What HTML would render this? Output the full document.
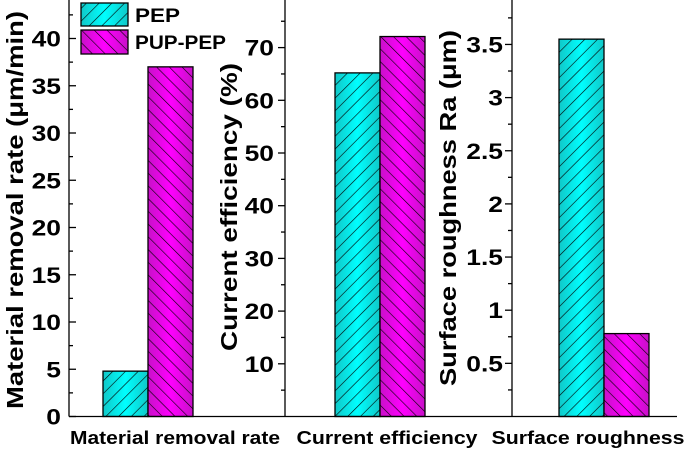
<!DOCTYPE html>
<html><head><meta charset="utf-8"><style>
body{margin:0;background:#fff}
svg{display:block;font-family:"Liberation Sans",Arial,sans-serif;font-weight:bold}
</style></head><body>
<svg id="chart" width="685" height="450" viewBox="0 0 685 450" xmlns="http://www.w3.org/2000/svg">
<defs>
<linearGradient id="gc" x1="0" x2="1" y1="0" y2="0"><stop offset="0" stop-color="#10c8c8"/><stop offset="0.5" stop-color="#00ffff"/><stop offset="1" stop-color="#10c8c8"/></linearGradient>
<linearGradient id="gm" x1="0" x2="1" y1="0" y2="0"><stop offset="0" stop-color="#c810c8"/><stop offset="0.5" stop-color="#ff00ff"/><stop offset="1" stop-color="#c810c8"/></linearGradient>
<pattern id="hc" width="9" height="9" patternUnits="userSpaceOnUse" patternTransform="rotate(45)"><line x1="0" y1="0" x2="0" y2="9" stroke="#000" stroke-width="1.2"/></pattern>
<pattern id="hm" width="9" height="9" patternUnits="userSpaceOnUse" patternTransform="rotate(-45)"><line x1="0" y1="0" x2="0" y2="9" stroke="#000" stroke-width="1.2"/></pattern>
</defs>
<g id="bars"></g>
<g id="axes" stroke="#000" stroke-width="1.3"></g>
<g id="labels" fill="#000"></g>
<g>
<rect x="81" y="3" width="47" height="23" fill="url(#gc)" stroke="#000" stroke-width="1.3"/>
<rect x="81" y="3" width="47" height="23" fill="url(#hc)"/>
<text x="135" y="22" font-size="19" textLength="45" lengthAdjust="spacingAndGlyphs">PEP</text>
<rect x="81" y="30" width="47" height="24" fill="url(#gm)" stroke="#000" stroke-width="1.3"/>
<rect x="81" y="30" width="47" height="24" fill="url(#hm)"/>
<text x="135" y="49" font-size="19" textLength="91" lengthAdjust="spacingAndGlyphs">PUP-PEP</text>
</g>
</svg>
<script>
const categories=["Material removal rate","Current efficiency","Surface roughness"];
const pepValues=[4.8,65.2,3.55];
const pupValues=[37,72.1,0.78];
const ticks1=[0,5,10,15,20,25,30,35,40];
const ticks2=[10,20,30,40,50,60,70];
const ticks3=["0.5","1","1.5","2","2.5","3","3.5"];
const titles=["Material removal rate (μm/min)","Current efficiency (%)","Surface roughness Ra (μm)"];
const NS="http://www.w3.org/2000/svg";
const base=416.5;
const scales=[v=>base-v*9.45,v=>base-v*5.27,v=>base-v*106.3];
const barX=[103,335,559], bw=45;
const gB=document.getElementById('bars'),gA=document.getElementById('axes'),gL=document.getElementById('labels');
function mk(p,tag,a){const e=document.createElementNS(NS,tag);for(const k in a)e.setAttribute(k,a[k]);p.appendChild(e);return e;}
function stretch(t,f){const w=t.getComputedTextLength();t.setAttribute('textLength',w*f);t.setAttribute('lengthAdjust','spacingAndGlyphs');}
const catX=[175,387,588],catW=[210,181,193];
categories.forEach((c,i)=>{
 const y=scales[i];
 [[pepValues[i],'c',barX[i]],[pupValues[i],'m',barX[i]+bw]].forEach(([v,s,x])=>{
  const t=y(v);
  const r=mk(gB,'rect',{x:x,y:t,width:bw,height:base-t,fill:'url(#g'+s+')',stroke:'#000','stroke-width':1.3});
  
  
  mk(gB,'rect',{x:x,y:t,width:bw,height:base-t,fill:'url(#h'+s+')'});
 });
 const tx=mk(gL,'text',{x:catX[i],y:444,'font-size':18,'text-anchor':'middle',textLength:catW[i],lengthAdjust:'spacingAndGlyphs'});
 tx.textContent=c;
 
 
});
mk(gA,'line',{x1:69,y1:base,x2:677,y2:base});
mk(gA,'line',{x1:69,y1:0,x2:69,y2:base});
for(let v=0;v<=42.5;v+=2.5){const y=scales[0](v);mk(gA,'line',{x1:69,y1:y,x2:69+(v%5==0?7:4),y2:y});}
ticks1.forEach(v=>{const t=mk(gL,'text',{x:61,y:scales[0](v)+8,'font-size':22,'text-anchor':'end'});t.textContent=v;stretch(t,1.2);});
mk(gA,'line',{x1:285,y1:0,x2:285,y2:base});
for(let v=5;v<=75;v+=5){const y=scales[1](v);mk(gA,'line',{x1:285,y1:y,x2:285-(v%10==0?7:4),y2:y});}
ticks2.forEach(v=>{const t=mk(gL,'text',{x:274,y:scales[1](v)+8,'font-size':22,'text-anchor':'end'});t.textContent=v;stretch(t,1.2);});
mk(gA,'line',{x1:512,y1:0,x2:512,y2:base});
for(let v=0.25;v<=3.8;v+=0.25){const y=scales[2](v);mk(gA,'line',{x1:512,y1:y,x2:512-(Math.abs(v*2-Math.round(v*2))<1e-6?7:4),y2:y});}
ticks3.forEach(v=>{const t=mk(gL,'text',{x:503,y:scales[2](+v)+8,'font-size':22,'text-anchor':'end'});t.textContent=v;stretch(t,1.2);});
const tPos=[[15,210,398],[229,207,288],[448,208,356]];
tPos.forEach(([x,y,len],i)=>{
 const t=mk(gL,'text',{x:0,y:0,'font-size':23,'text-anchor':'middle',textLength:len,lengthAdjust:'spacingAndGlyphs',transform:`translate(${x+8},${y}) rotate(-90)`});
 t.textContent=titles[i];
 
 
});
</script>
</body></html>
